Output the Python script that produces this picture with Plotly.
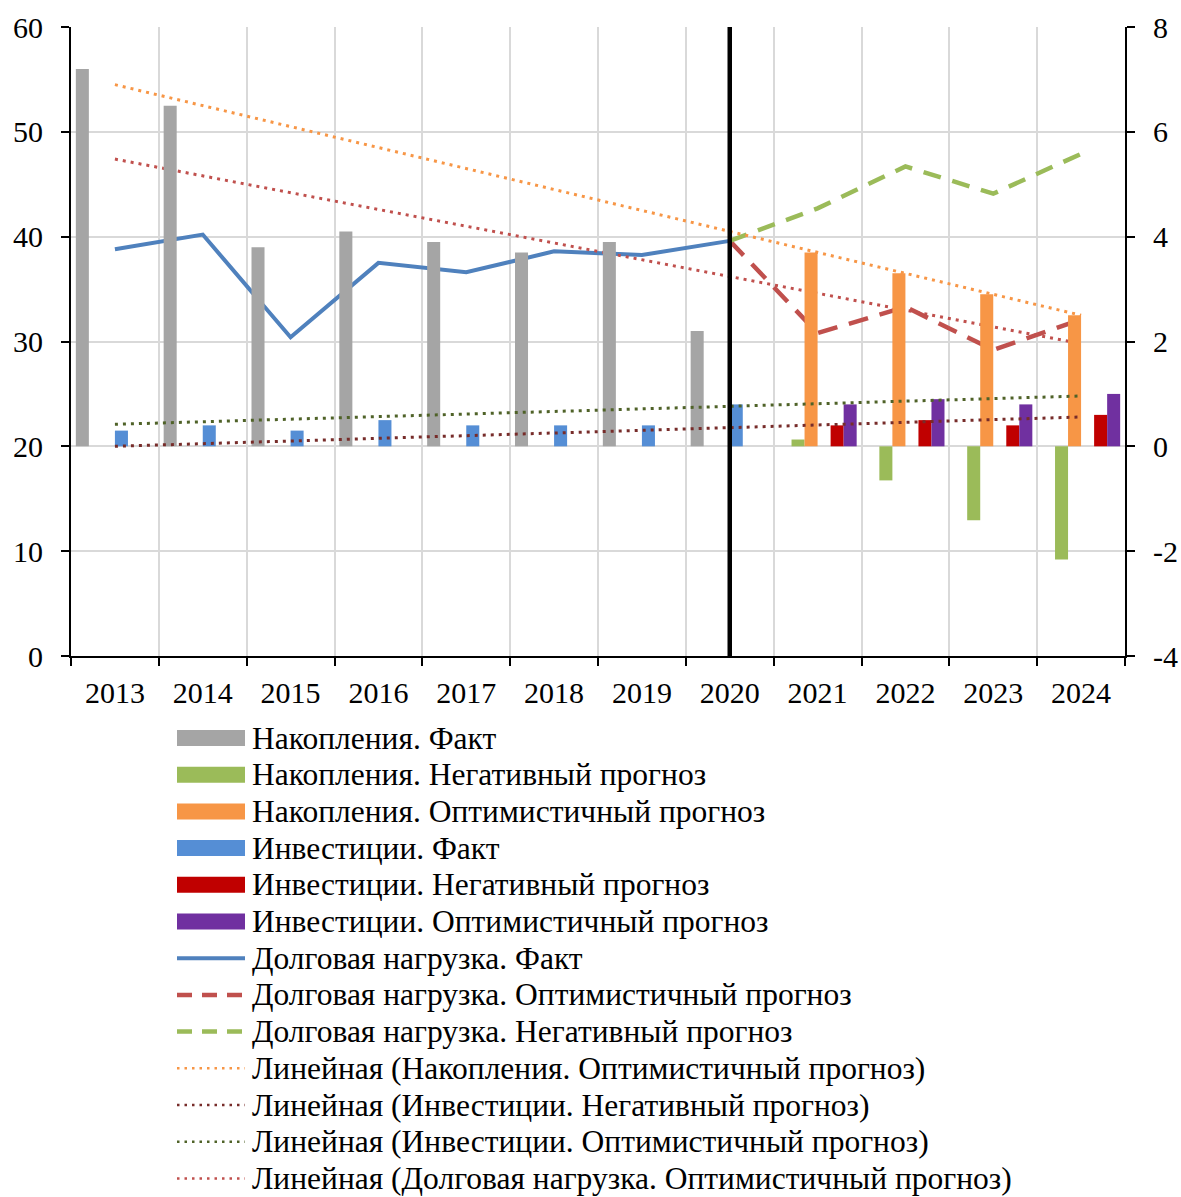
import plotly.graph_objects as go

years = ["2013", "2014", "2015", "2016", "2017", "2018", "2019", "2020", "2021", "2022", "2023", "2024"]

# Bars (right axis)
sav_fact = [7.2, 6.5, 3.8, 4.1, 3.9, 3.7, 3.9, 2.2, None, None, None, None]
sav_neg = [None, None, None, None, None, None, None, None, 0.13, -0.65, -1.41, -2.16]
sav_opt = [None, None, None, None, None, None, None, None, 3.7, 3.3, 2.9, 2.5]
inv_fact = [0.3, 0.4, 0.3, 0.5, 0.4, 0.4, 0.4, 0.8, None, None, None, None]
inv_neg = [None, None, None, None, None, None, None, None, 0.4, 0.5, 0.4, 0.6]
inv_opt = [None, None, None, None, None, None, None, None, 0.8, 0.9, 0.8, 1.0]

# Lines (left axis)
debt_fact = [38.8, 40.2, 30.4, 37.5, 36.6, 38.6, 38.25, 39.6, None, None, None, None]
debt_opt = [None, None, None, None, None, None, None, 39.6, 30.8, 33.3, 29.2, 32.1]
debt_neg = [None, None, None, None, None, None, None, 39.6, 42.7, 46.7, 44.1, 47.9]

# Linear trend lines (end points at 2013 and 2024)
trend_x = ["2013", "2024"]
trend_sav_opt = [6.9, 2.5]      # right axis
trend_inv_neg = [0.0, 0.56]     # right axis
trend_inv_opt = [0.42, 0.96]    # right axis
trend_debt_opt = [47.4, 29.8]   # left axis

# Axis ticks
left_ticks = [0, 10, 20, 30, 40, 50, 60]
right_ticks = [-4, -2, 0, 2, 4, 6, 8]
right_tick_labels = ["-4", "-2", "0", "2", "4", "6", "8"]

names = [
    "Накопления. Факт",
    "Накопления. Негативный прогноз",
    "Накопления. Оптимистичный прогноз",
    "Инвестиции. Факт",
    "Инвестиции. Негативный прогноз",
    "Инвестиции. Оптимистичный прогноз",
    "Долговая нагрузка. Факт",
    "Долговая нагрузка. Оптимистичный прогноз",
    "Долговая нагрузка. Негативный прогноз",
    "Линейная (Накопления. Оптимистичный прогноз)",
    "Линейная (Инвестиции. Негативный прогноз)",
    "Линейная (Инвестиции. Оптимистичный прогноз)",
    "Линейная (Долговая нагрузка. Оптимистичный прогноз)",
]

FONT = "Liberation Serif"
W, H = 1181, 1197
L, R, T, B = 71, 56, 27, 541
PW, PH = W - L - R, H - T - B

bar_colors = ["#A5A5A5", "#9BBB59", "#F79646", "#558ED5", "#C00000", "#7030A0"]
bar_data = [sav_fact, sav_neg, sav_opt, inv_fact, inv_neg, inv_opt]

line_styles = [
    dict(color="#4F81BD", width=4),
    dict(color="#C0504D", width=4.5, dash="20px,12px"),
    dict(color="#9BBB59", width=4.5, dash="18px,12px"),
    dict(color="#F79646", width=3, dash="3px,5px"),
    dict(color="#772C2A", width=3, dash="3px,5px"),
    dict(color="#4F6228", width=3, dash="3px,5px"),
    dict(color="#C0504D", width=3, dash="3px,5px"),
]
legend_line_styles = [
    dict(color="#4F81BD", width=4),
    dict(color="#C0504D", width=4.5, dash="15px,10px"),
    dict(color="#9BBB59", width=4.5, dash="15px,10px"),
    dict(color="#F79646", width=2.5, dash="2.5px,5px"),
    dict(color="#772C2A", width=2.5, dash="2.5px,5px"),
    dict(color="#4F6228", width=2.5, dash="2.5px,5px"),
    dict(color="#C0504D", width=2.5, dash="2.5px,5px"),
]

fig = go.Figure()

# bars
for i, (vals, col) in enumerate(zip(bar_data, bar_colors)):
    fig.add_trace(go.Bar(x=years, y=vals, name=names[i], marker=dict(color=col, line=dict(width=0)),
                         yaxis="y2", showlegend=False))

line_series = [
    (years, debt_fact, "y"),
    (years, debt_opt, "y"),
    (years, debt_neg, "y"),
    (trend_x, trend_sav_opt, "y2"),
    (trend_x, trend_inv_neg, "y2"),
    (trend_x, trend_inv_opt, "y2"),
    (trend_x, trend_debt_opt, "y"),
]
for j, ((xs, ys, ax), st) in enumerate(zip(line_series, line_styles)):
    fig.add_trace(go.Scatter(x=xs, y=ys, mode="lines", name=names[6 + j], yaxis=ax,
                             line=st, showlegend=False))

fig.add_shape(type="line", xref="x", yref="paper", x0=7, x1=7, y0=0, y1=1,
              line=dict(color="black", width=4.5), layer="above")

# manual legend below the plot
def px_to_paper_x(px):
    return (px - L) / PW

def px_to_paper_y(py):
    return (H - B - py) / PH

leg_y0, leg_step = 738, 36.7
sym_x0, sym_x1, text_x = 177, 245, 250
for k, nm in enumerate(names):
    cy = leg_y0 + k * leg_step
    yy = px_to_paper_y(cy)
    if k < 6:
        st = dict(color=bar_colors[k], width=16)
    else:
        st = legend_line_styles[k - 6]
    fig.add_shape(type="line", xref="paper", yref="paper",
                  x0=px_to_paper_x(sym_x0), x1=px_to_paper_x(sym_x1), y0=yy, y1=yy, line=st)
    fig.add_annotation(xref="paper", yref="paper", x=px_to_paper_x(text_x), y=yy,
                       xanchor="left", yanchor="middle", text=nm, showarrow=False,
                       font=dict(family=FONT, size=31.5, color="black"))

axis_common = dict(showline=True, linecolor="black", linewidth=2,
                   ticks="outside", ticklen=8, tickwidth=2, tickcolor="black",
                   tickfont=dict(family=FONT, size=30), zeroline=False)

fig.update_layout(
    width=W, height=H,
    margin=dict(l=L, r=R, t=T, b=B, autoexpand=False),
    paper_bgcolor="white", plot_bgcolor="white",
    font=dict(family=FONT, size=30, color="black"),
    showlegend=False,
    barmode="group", bargap=0.11, bargroupgap=0,
    xaxis=dict(type="category", categoryorder="array", categoryarray=years,
               tickson="boundaries", showgrid=True, gridcolor="#D9D9D9", gridwidth=2,
               tickangle=0, ticklabelstandoff=9, **axis_common),
    yaxis=dict(range=[0, 60], tickvals=left_ticks, showgrid=True, gridcolor="#D9D9D9", gridwidth=2,
               ticklabelstandoff=12, **axis_common),
    yaxis2=dict(range=[-4, 8], tickvals=right_ticks, ticktext=right_tick_labels,
                overlaying="y", side="right", showgrid=False,
                ticklabelstandoff=12, **axis_common),
)

fig.write_html("out.html", config={"displayModeBar": False})

# remove default page margin so the figure sits at the window's top-left corner
with open("out.html", "r", encoding="utf-8") as f:
    html = f.read()
html = html.replace("<head>", "<head><style>html,body{margin:0;padding:0;overflow:hidden;}</style>", 1)
with open("out.html", "w", encoding="utf-8") as f:
    f.write(html)
